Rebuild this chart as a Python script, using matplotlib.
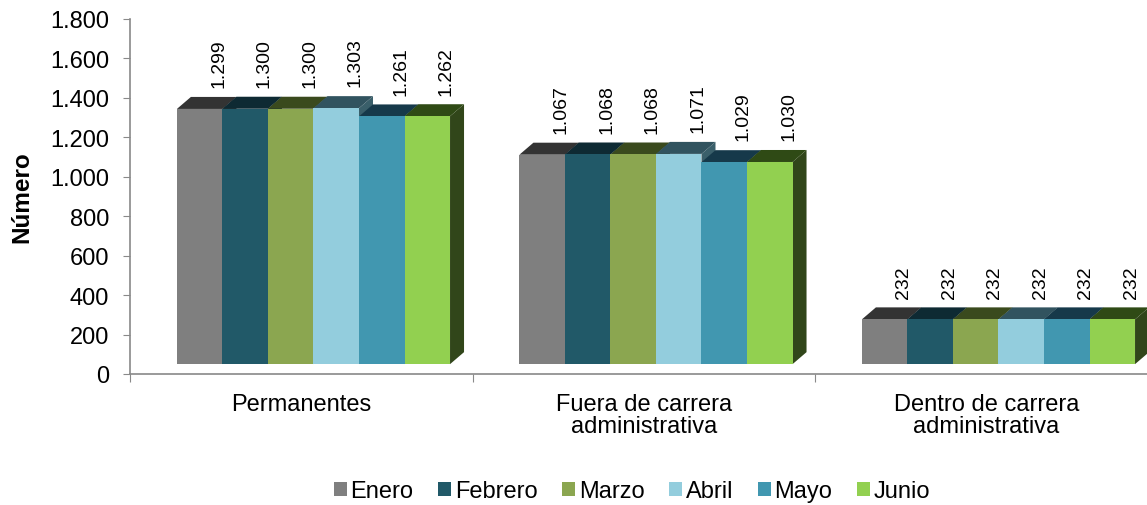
import matplotlib.pyplot as plt
import matplotlib.patches as mpatches
import numpy as np

plt.rcParams['font.family'] = ['Liberation Sans', 'DejaVu Sans']

categorias = ['Permanentes', 'Fuera de carrera\nadministrativa', 'Dentro de carrera\nadministrativa']
meses = ['Enero', 'Febrero', 'Marzo', 'Abril', 'Mayo', 'Junio']
valores = {
    'Enero':   [1299, 1067, 232],
    'Febrero': [1300, 1068, 232],
    'Marzo':   [1300, 1068, 232],
    'Abril':   [1303, 1071, 232],
    'Mayo':    [1261, 1029, 232],
    'Junio':   [1262, 1030, 232],
}
# front face, top face, side face
colores = {
    'Enero':   ('#7f7f7f', '#333333', '#3a3a3a'),
    'Febrero': ('#215968', '#0e2a33', '#0f2e38'),
    'Marzo':   ('#8ba650', '#3a4a1d', '#3d4d1f'),
    'Abril':   ('#93cddd', '#31535f', '#3a5f6a'),
    'Mayo':    ('#4197b0', '#16394a', '#1a4050'),
    'Junio':   ('#92d050', '#2f4a15', '#31461a'),
}

W, H = 1147, 506
fig = plt.figure(figsize=(W / 100, H / 100), dpi=100)
ax = fig.add_axes([130 / W, (H - 375) / H, 1 - 130 / W, (375 - 20) / H])
xmax = (W - 130) / 342.5
ax.set_xlim(0, xmax)
ax.set_ylim(0, 1800)

ancho = 0.1329
inicio = 0.137
base = 50       # 3D offset of the front face
extra = 45
dx = 14 / 342.5
dy = 12 * 1800 / 355

for c in range(len(categorias)):
    for j, mes in enumerate(meses):
        v = valores[mes][c]
        x0 = c + inicio + j * ancho
        top = v + extra
        front, topc, sidec = colores[mes]
        side = mpatches.Polygon([[x0 + ancho, base], [x0 + ancho + dx, base + dy],
                                 [x0 + ancho + dx, top + dy], [x0 + ancho, top]],
                                closed=True, facecolor=sidec, edgecolor='none', zorder=3)
        tapa = mpatches.Polygon([[x0, top], [x0 + dx, top + dy],
                                 [x0 + ancho + dx, top + dy], [x0 + ancho, top]],
                                closed=True, facecolor=topc, edgecolor='none', zorder=3)
        cara = mpatches.Rectangle((x0, base), ancho, top - base, facecolor=front,
                                  edgecolor='none', zorder=4)
        ax.add_patch(side)
        ax.add_patch(tapa)
        ax.add_patch(cara)
        etiqueta = f'{v:,}'.replace(',', '.')
        ax.text(x0 + ancho / 2 + 0.055, top + 110, etiqueta, rotation=90,
                ha='center', va='bottom', fontsize=14, color='black', zorder=5)

for s in ['top', 'right']:
    ax.spines[s].set_visible(False)
for s in ['left', 'bottom']:
    ax.spines[s].set_color('#898989')
    ax.spines[s].set_linewidth(1.2)

ax.set_yticks(np.arange(0, 1801, 200))
ax.set_yticklabels([f'{t:,}'.replace(',', '.') for t in range(0, 1801, 200)], fontsize=17)
ax.tick_params(axis='y', length=5, color='#898989', pad=10)
ax.set_xticks([0, 1, 2])
ax.set_xticklabels([])
ax.tick_params(axis='x', length=6, color='#898989')
for c, nombre in enumerate(categorias):
    ax.text(c + 0.5, -95, nombre, ha='center', va='top', fontsize=17,
            linespacing=1.0)

ax.set_ylabel('Número', fontsize=17.5, fontweight='bold', labelpad=12)

handles = [mpatches.Patch(facecolor=colores[m][0], edgecolor='none', label=m) for m in meses]
fig.legend(handles=handles, loc='center', bbox_to_anchor=(632 / W, 1 - 492 / H),
           ncol=6, frameon=False, fontsize=17, handlelength=0.55, handleheight=0.55,
           handletextpad=0.15, columnspacing=1.05)

fig.savefig('out.png', dpi=100)
